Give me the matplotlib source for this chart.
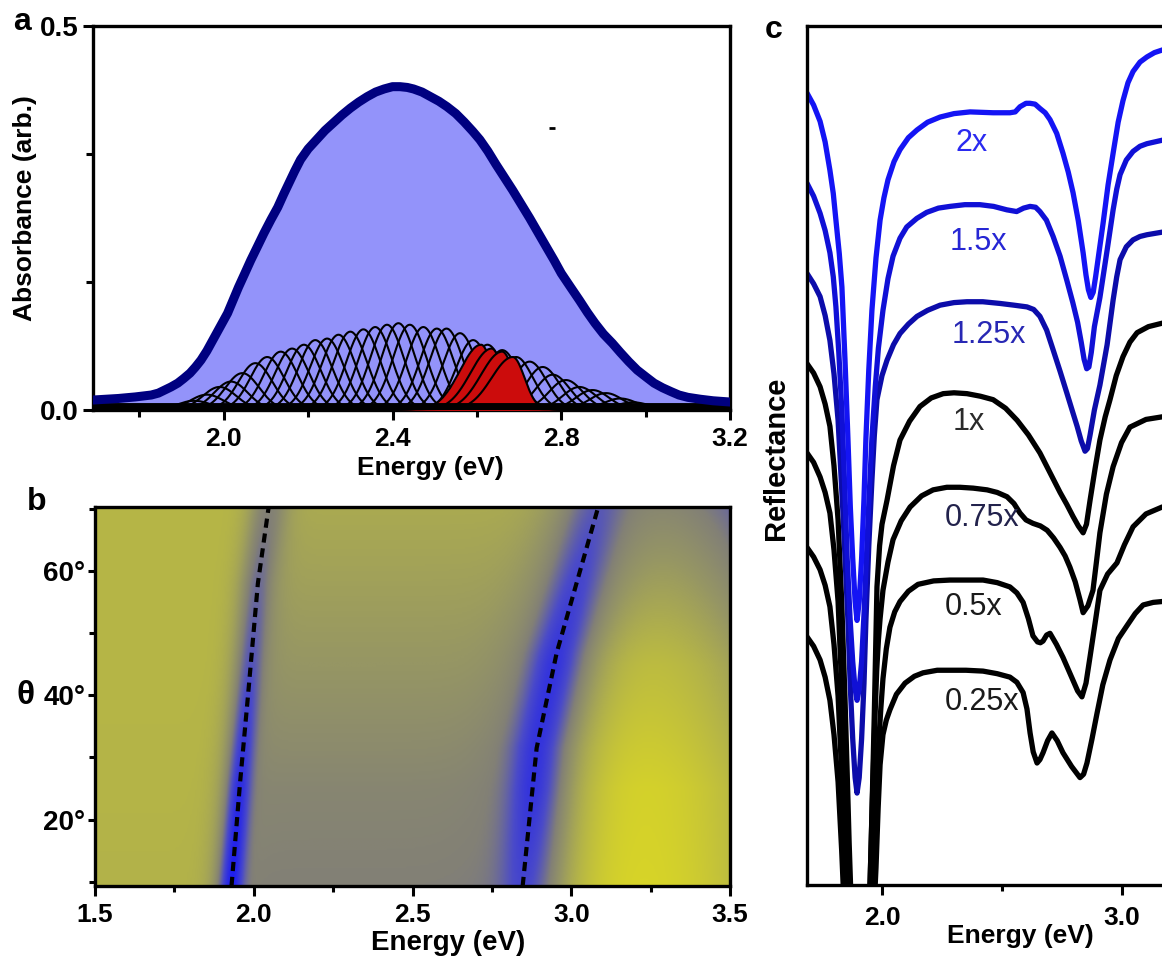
import numpy as np
import matplotlib.pyplot as plt
from matplotlib.colors import LinearSegmentedColormap

plt.rcParams['font.family'] = ['Liberation Sans', 'DejaVu Sans']
plt.rcParams['font.weight'] = 'bold'

# ---------------- panel a: absorbance ----------------
ABS_E = [1.69, 1.72, 1.75, 1.79, 1.828, 1.845, 1.86, 1.875, 1.891, 1.905, 1.92, 1.933,
         1.946, 1.96, 1.975, 1.992, 2.009, 2.022, 2.035, 2.05, 2.064, 2.08, 2.095, 2.112,
         2.128, 2.142, 2.155, 2.168, 2.182, 2.20, 2.22, 2.24, 2.26, 2.28, 2.30, 2.32,
         2.34, 2.36, 2.38, 2.40, 2.418, 2.435, 2.45, 2.47, 2.49, 2.51, 2.529, 2.55,
         2.57, 2.59, 2.607, 2.626, 2.645, 2.665, 2.685, 2.705, 2.725, 2.745, 2.765,
         2.783, 2.80, 2.822, 2.843, 2.862, 2.88, 2.90, 2.921, 2.94, 2.96, 2.98, 3.001,
         3.02, 3.04, 3.06, 3.079, 3.10, 3.13, 3.16, 3.20]
ABS_Y = [0.013, 0.014, 0.015, 0.017, 0.0195, 0.022, 0.026, 0.030, 0.035, 0.041, 0.048,
         0.056, 0.065, 0.077, 0.092, 0.109, 0.126, 0.143, 0.16, 0.178, 0.195, 0.213,
         0.23, 0.248, 0.264, 0.281, 0.296, 0.311, 0.326, 0.340, 0.352, 0.364, 0.374,
         0.384, 0.393, 0.401, 0.408, 0.414, 0.418, 0.421, 0.421, 0.420, 0.418, 0.414,
         0.408, 0.402, 0.395, 0.386, 0.375, 0.363, 0.352, 0.337, 0.32, 0.303, 0.286,
         0.268, 0.25, 0.231, 0.212, 0.195, 0.178, 0.16, 0.143, 0.127, 0.113, 0.099,
         0.087, 0.075, 0.063, 0.052, 0.043, 0.035, 0.029, 0.024, 0.0195, 0.0165, 0.014,
         0.012, 0.0104]

# sub-band gaussians (center, amplitude)
BAND_CENTERS = [1.93, 1.96, 1.99, 2.017, 2.044, 2.075, 2.103, 2.135, 2.162, 2.19,
                2.217, 2.245, 2.272, 2.30, 2.331, 2.359, 2.387, 2.414, 2.441, 2.473,
                2.505, 2.528, 2.56, 2.591, 2.625, 2.66, 2.693, 2.725, 2.756, 2.78,
                2.811, 2.843, 2.874, 2.906, 2.94, 2.97, 3.0]
BAND_AMPS = [0.012, 0.02, 0.03, 0.037, 0.048, 0.061, 0.069, 0.076, 0.080, 0.085,
             0.091, 0.093, 0.098, 0.102, 0.105, 0.108, 0.111, 0.113, 0.111, 0.108,
             0.106, 0.106, 0.100, 0.091, 0.085, 0.078, 0.069, 0.063, 0.056, 0.046,
             0.039, 0.030, 0.026, 0.022, 0.015, 0.010, 0.006]
BAND_SIGMA = 0.04
RED_CENTERS = [2.61, 2.635, 2.66, 2.685]
RED_AMPS = [0.085, 0.080, 0.076, 0.069]
RED_SIGMA_LEFT = 0.05
RED_SIGMA_RIGHT = 0.028

# ---------------- panel b: angle-resolved map ----------------
LOWER_ANGLES = [9.3, 26, 40, 58, 70.3]
LOWER_DIP_E = [1.93, 1.957, 1.982, 2.013, 2.047]
UPPER_ANGLES = [9.3, 31.5, 46.8, 58.1, 70.3]
UPPER_DIP_E = [2.847, 2.891, 2.954, 3.017, 3.085]
LEVEL_ANGLES = [9.3, 25, 45, 70.3]
LEFT_LEVEL = [0.77, 0.78, 0.79, 0.79]
MID_LEVEL = [0.45, 0.49, 0.60, 0.72]
RIGHT_LEVEL = [1.0, 0.98, 0.84, 0.52]
LOWER_CORE = [0.0, 0.08, 0.28, 0.46]
UPPER_CORE = [0.22, 0.12, 0.12, 0.3]

# ---------------- panel c: reflectance ----------------
SCALES = ['0.25x', '0.5x', '0.75x', '1x', '1.25x', '1.5x', '2x']
REFL_E = {
    '2x': [1.6875, 1.715, 1.742, 1.763, 1.783, 1.797, 1.808, 1.822, 1.833, 1.846, 1.858,
           1.868, 1.878, 1.888, 1.896, 1.905, 1.915, 1.925, 1.933, 1.945, 1.958, 1.975,
           1.992, 2.008, 2.025, 2.05, 2.075, 2.11, 2.146, 2.19, 2.242, 2.30, 2.367,
           2.463, 2.533, 2.555, 2.575, 2.60, 2.617, 2.638, 2.658, 2.68, 2.70, 2.728,
           2.754, 2.776, 2.796, 2.818, 2.838, 2.85, 2.86, 2.87, 2.88, 2.89, 2.90, 2.921,
           2.942, 2.963, 2.984, 3.004, 3.025, 3.046, 3.075, 3.104, 3.135, 3.167, 3.2],
    '1.5x': [1.6875, 1.715, 1.742, 1.763, 1.783, 1.797, 1.808, 1.82, 1.833, 1.845, 1.855,
             1.867, 1.878, 1.888, 1.896, 1.905, 1.915, 1.925, 1.935, 1.946, 1.958, 1.972,
             1.985, 2.004, 2.025, 2.046, 2.075, 2.103, 2.145, 2.186, 2.235, 2.283, 2.345,
             2.408, 2.465, 2.52, 2.561, 2.59, 2.617, 2.64, 2.658, 2.685, 2.713, 2.742,
             2.77, 2.795, 2.815, 2.83, 2.842, 2.853, 2.862, 2.872, 2.885, 2.908, 2.938,
             2.963, 2.978, 2.992, 3.018, 3.046, 3.075, 3.104, 3.167, 3.2],
    '1.25x': [1.6875, 1.715, 1.742, 1.763, 1.783, 1.80, 1.817, 1.838, 1.858, 1.868, 1.878,
              1.888, 1.896, 1.905, 1.915, 1.925, 1.933, 1.945, 1.958, 1.968, 1.979, 2.0,
              2.021, 2.048, 2.075, 2.11, 2.146, 2.19, 2.242, 2.30, 2.354, 2.42, 2.492,
              2.55, 2.604, 2.632, 2.658, 2.686, 2.713, 2.742, 2.771, 2.793, 2.813, 2.83,
              2.846, 2.856, 2.867, 2.885, 2.908, 2.938, 2.963, 2.978, 2.992, 3.018, 3.046,
              3.075, 3.104, 3.167, 3.2],
    '1x': [1.6875, 1.715, 1.742, 1.763, 1.783, 1.80, 1.817, 1.832, 1.846, 1.855, 1.863,
           1.875, 1.885, 1.91, 1.935, 1.948, 1.955, 1.962, 1.968, 1.974, 1.979, 1.99, 2.0,
           2.021, 2.048, 2.075, 2.115, 2.158, 2.205, 2.255, 2.30, 2.354, 2.41, 2.463,
           2.515, 2.563, 2.61, 2.658, 2.70, 2.742, 2.77, 2.796, 2.818, 2.838, 2.852,
           2.867, 2.888, 2.908, 2.93, 2.95, 2.976, 3.004, 3.033, 3.063, 3.11, 3.167, 3.2],
    '0.75x': [1.6875, 1.715, 1.742, 1.763, 1.783, 1.80, 1.817, 1.832, 1.846, 1.856, 1.865,
              1.89, 1.915, 1.94, 1.95, 1.96, 1.97, 1.978, 1.985, 1.992, 2.004, 2.025,
              2.046, 2.08, 2.117, 2.165, 2.213, 2.27, 2.325, 2.38, 2.438, 2.48, 2.521,
              2.55, 2.575, 2.60, 2.629, 2.66, 2.688, 2.715, 2.742, 2.763, 2.783, 2.805,
              2.825, 2.838, 2.858, 2.879, 2.893, 2.908, 2.935, 2.963, 2.998, 3.033, 3.10,
              3.167, 3.2],
    '0.5x': [1.6875, 1.715, 1.742, 1.763, 1.783, 1.80, 1.817, 1.832, 1.846, 1.87, 1.90,
             1.93, 1.955, 1.97, 1.985, 1.995, 2.004, 2.018, 2.033, 2.053, 2.075, 2.11,
             2.15, 2.215, 2.283, 2.35, 2.421, 2.48, 2.533, 2.562, 2.588, 2.61, 2.629,
             2.648, 2.66, 2.671, 2.686, 2.70, 2.727, 2.754, 2.79, 2.815, 2.833, 2.85,
             2.867, 2.888, 2.908, 2.94, 2.979, 3.01, 3.046, 3.10, 3.167, 3.2],
    '0.25x': [1.6875, 1.715, 1.742, 1.763, 1.783, 1.80, 1.817, 1.832, 1.846, 1.88, 1.92,
              1.955, 1.975, 1.984, 1.992, 2.004, 2.018, 2.033, 2.06, 2.096, 2.135, 2.171,
              2.23, 2.283, 2.35, 2.421, 2.48, 2.533, 2.562, 2.588, 2.604, 2.617, 2.63,
              2.646, 2.658, 2.671, 2.69, 2.708, 2.73, 2.754, 2.79, 2.825, 2.84, 2.854,
              2.875, 2.896, 2.92, 2.95, 2.985, 3.021, 3.055, 3.088, 3.13, 3.167, 3.2],
}
REFL_R = {
    '2x': [92.2, 90.8, 88.9, 86.5, 83.2, 80.5, 77.4, 73.5, 69.6, 61, 52,
           44, 38, 33, 30.8, 33, 38, 45, 52, 60, 66.9, 73,
           77.4, 80, 82.1, 84.2, 85.6, 87, 87.9, 88.8, 89.4, 89.8, 90.0,
           89.9, 89.9, 90.0, 90.6, 91.0, 91.0, 90.9, 90.4, 89.9, 89.1, 87.5,
           85.2, 83.0, 80.6, 77.3, 73.6, 71, 69.3, 68.4, 69.0, 70.8, 72.8, 77,
           81.5, 85.2, 88.8, 91.3, 93.4, 94.7, 95.8, 96.4, 96.9, 97.2, 97.4],
    '1.5x': [81.7, 80.2, 78.2, 76.2, 73.6, 70.8, 67.3, 62, 55, 46, 38,
             31, 26, 22.8, 21.5, 22.8, 26, 31.5, 38, 45, 52, 58,
             62.5, 66.9, 70.6, 73.2, 75.3, 76.6, 77.6, 78.3, 78.8, 79.0, 79.2,
             79.2, 79.0, 78.6, 78.4, 78.8, 79.0, 78.9, 78.4, 77.4, 75.5, 73.2,
             70.4, 67.8, 65.5, 63.2, 61.2, 60.1, 60.3, 62, 65, 68.4, 73.9,
             78.6, 81, 82.7, 84.4, 85.4, 86.0, 86.3, 86.7, 86.9],
    '1.25x': [71.2, 70.0, 68.5, 66.3, 63.4, 59.5, 54.1, 43, 30.8, 23, 17,
              12.5, 10.7, 12.5, 17, 23.5, 30.8, 39.5, 47.1, 52.3, 56.5, 59.3,
              61.1, 62.9, 64.2, 65.3, 66.2, 66.9, 67.5, 67.8, 67.9, 67.9, 67.7,
              67.5, 67.3, 67.0, 66.2, 64.6, 62.3, 59.8, 57.2, 55.2, 53.4, 51.7,
              50.5, 50.8, 52.4, 55.3, 58.2, 62.9, 68.1, 70.8, 72.8, 74.3, 75.1,
              75.5, 75.7, 76.0, 76.1],
    '1x': [60.7, 59.6, 58.0, 56.0, 53.4, 48.8, 42.5, 33, 21.5, 13, 5,
           -5, -12, -20, -12, -2, 5, 13, 20, 28, 34.7, 39.5, 42,
           44.8, 48.8, 51.8, 54.0, 55.7, 56.7, 57.2, 57.3, 57.2, 56.9, 56.5,
           55.5, 54.1, 52.4, 50.3, 48.0, 45.7, 44.3, 42.9, 41.8, 41.0, 42.0,
           44.8, 48.5, 51.8, 54.5, 56.5, 59.3, 61.5, 63.2, 64.3, 65.0, 65.4, 65.5],
    '0.75x': [50.3, 49.2, 47.5, 45.7, 43.3, 39, 33, 23, 12, 3, -5,
              -20, -25, -10, 0, 10, 19, 25, 28.5, 31, 34.3, 37.6,
              40.2, 42.4, 44.0, 45.3, 46.0, 46.3, 46.3, 46.2, 46.0, 45.7, 45.2,
              44.4, 43.3, 42.5, 42.1, 41.8, 41.3, 40.4, 39.3, 38.3, 37.0, 35.3,
              33.2, 31.7, 32.5, 34.3, 37.5, 41.0, 45.5, 48.7, 51.5, 53.3, 54.2,
              54.5, 54.6],
    '0.5x': [39.3, 38.2, 36.7, 34.9, 32.4, 28, 22, 13, 3, -15, -25,
             -15, 0, 8, 16, 20.5, 24, 27.5, 30, 31.8, 33, 34.2,
             35, 35.4, 35.5, 35.5, 35.5, 35.2, 34.7, 34.0, 32.9, 31.0, 29.0,
             28.3, 28.2, 28.4, 29.1, 29.3, 28.0, 26.5, 24.2, 22.6, 21.9, 23.5,
             26.6, 30.5, 34.3, 36.2, 37.5, 39.6, 41.7, 43.2, 44.0, 44.1],
    '0.25x': [28.9, 27.8, 26.2, 24.2, 21.5, 17.5, 12, 4, -5, -25, -25,
              -10, 2, 9, 14, 17.5, 19.2, 20.4, 22.2, 23.5, 24.3, 24.7,
              25.0, 25.0, 25.0, 24.9, 24.6, 24.2, 23.6, 22.4, 20.5, 17.7, 15.5,
              14.2, 14.6, 15.4, 16.8, 17.7, 16.8, 15.4, 13.8, 12.5, 12.9, 14.2,
              17.0, 20.0, 23.3, 26.2, 28.7, 30.2, 31.6, 32.6, 32.9, 33.0, 33.1],
}
LINE_COLORS = {'2x': '#1414f4', '1.5x': '#1010d6', '1.25x': '#0c0caa',
               '1x': 'black', '0.75x': 'black', '0.5x': 'black', '0.25x': 'black'}
TEXT_COLORS = {'2x': '#2a2af0', '1.5x': '#2626d4', '1.25x': '#2828b4',
               '1x': '#2a2a2a', '0.75x': '#22224c', '0.5x': '#1a1a1a', '0.25x': '#1a1a1a'}
LABEL_POS = {'2x': (2.375, 86.4), '1.5x': (2.40, 74.9), '1.25x': (2.446, 64.0),
             '1x': (2.363, 53.9), '0.75x': (2.417, 42.7), '0.5x': (2.383, 32.4),
             '0.25x': (2.417, 21.3)}

W, H = 1162, 957


def box(x0, y0, x1, y1):
    # pixel box -> figure fraction rect
    return [x0 / W, 1 - y1 / H, (x1 - x0) / W, (y1 - y0) / H]


def ftext(x, y, s, **kw):
    fig.text(x / W, 1 - y / H, s, ha='center', va='center', **kw)


def style_spines(ax, lw=2.4):
    for sp in ax.spines.values():
        sp.set_linewidth(lw)


fig = plt.figure(figsize=(W / 100, H / 100), dpi=100)

# ---------- a ----------
axa = fig.add_axes(box(93, 26, 730, 410))
e = np.linspace(1.69, 3.2, 900)
axa.fill_between(ABS_E, 0, ABS_Y, color='#9393fa', lw=0, zorder=1)
for c, a in zip(BAND_CENTERS, BAND_AMPS):
    axa.plot(e, a * np.exp(-(e - c) ** 2 / (2 * BAND_SIGMA ** 2)), color='black', lw=1.5, zorder=2)
for c, a in zip(RED_CENTERS, RED_AMPS):
    sig = np.where(e < c, RED_SIGMA_LEFT, RED_SIGMA_RIGHT)
    y = a * np.exp(-(e - c) ** 2 / (2 * sig ** 2))
    axa.fill_between(e, 0, y, color='#cc0c0c', lw=0, zorder=3)
    axa.plot(e, y, color='black', lw=1.5, zorder=3)
axa.axhline(0, color='black', lw=10, zorder=4)
axa.plot(ABS_E, ABS_Y, color='#000080', lw=6.5, zorder=5,
         solid_joinstyle='round', solid_capstyle='round')
axa.plot([2.779], [0.367], marker='_', ms=5, mew=2, color='black')
axa.set_xlim(1.69, 3.2)
axa.set_ylim(0, 0.5)
axa.set_xticks([2.0, 2.4, 2.8, 3.2])
axa.set_xticklabels(['2.0', '2.4', '2.8', '3.2'])
axa.set_xticks([1.8, 2.2, 2.6, 3.0], minor=True)
axa.set_yticks([0, 0.5])
axa.set_yticklabels(['0.0', '0.5'])
axa.set_yticks([1 / 6, 1 / 3], minor=True)
axa.tick_params(which='major', direction='out', length=7, width=2.2, labelsize=19, pad=5)
axa.tick_params(axis='y', which='major', labelsize=20, pad=3)
axa.tick_params(which='minor', direction='out', length=5, width=2.2)
style_spines(axa)
ftext(430, 468, 'Energy (eV)', fontsize=19, fontweight='bold')
ftext(25, 208, 'Absorbance (arb.)', fontsize=19, fontweight='bold', rotation=90)
ftext(22, 22, 'a', fontsize=23, fontweight='bold')

# ---------- b ----------
axb = fig.add_axes(box(95, 507, 730, 886))
eg = np.linspace(1.5, 3.5, 500)
tg = np.linspace(9.3, 70.3, 250)
E, T = np.meshgrid(eg, tg)
e1 = np.interp(T, LOWER_ANGLES, LOWER_DIP_E)
e2 = np.interp(T, UPPER_ANGLES, UPPER_DIP_E)
s1 = 1 / (1 + np.exp(-(E - e1) / 0.025))
s2 = 1 / (1 + np.exp(-(E - e2) / 0.05))
left = np.interp(T, LEVEL_ANGLES, LEFT_LEVEL)
mid = np.interp(T, LEVEL_ANGLES, MID_LEVEL)
right = np.interp(T, LEVEL_ANGLES, RIGHT_LEVEL) - 2.0 * (E - 3.22) ** 2
core1 = np.interp(T, LEVEL_ANGLES, LOWER_CORE)
core2 = np.interp(T, LEVEL_ANGLES, UPPER_CORE)
field = left * (1 - s1) + mid * s1 * (1 - s2) + right * s2
field += (0.45 - field) * 0.8 * np.exp(-((E - e1) / 0.07) ** 2)
field += (core1 - field) * np.exp(-((E - e1) / 0.036) ** 2)
field += (0.42 - field) * 0.85 * np.exp(-((E - e2) / 0.16) ** 2)
field += (core2 - field) * np.exp(-((E - e2) / 0.075) ** 2)
cmap = LinearSegmentedColormap.from_list('refl', [
    (0.0, (30 / 255, 30 / 255, 240 / 255)),
    (0.25, (75 / 255, 75 / 255, 200 / 255)),
    (0.45, (130 / 255, 128 / 255, 118 / 255)),
    (0.6, (150 / 255, 150 / 255, 100 / 255)),
    (0.78, (180 / 255, 180 / 255, 72 / 255)),
    (1.0, (215 / 255, 212 / 255, 40 / 255))])
axb.imshow(field, extent=[1.5, 3.5, 9.3, 70.3], origin='lower', aspect='auto',
           cmap=cmap, vmin=0, vmax=1, interpolation='bilinear')
axb.plot(LOWER_DIP_E, LOWER_ANGLES, color='black', lw=3, ls=(0, (2.2, 1.4)))
axb.plot(UPPER_DIP_E, UPPER_ANGLES, color='black', lw=3, ls=(0, (2.2, 1.4)))
axb.set_xlim(1.5, 3.5)
axb.set_ylim(9.3, 70.3)
axb.set_xticks([1.5, 2.0, 2.5, 3.0, 3.5])
axb.set_xticklabels(['1.5', '2.0', '2.5', '3.0', '3.5'])
axb.set_xticks([1.75, 2.25, 2.75, 3.25], minor=True)
axb.set_yticks([20, 40, 60])
axb.set_yticklabels(['20°', '40°', '60°'])
axb.set_yticks([10, 30, 50, 70], minor=True)
axb.tick_params(which='major', direction='out', length=7, width=2.2, labelsize=19, pad=5)
axb.tick_params(which='minor', direction='out', length=4, width=2.2)
axb.tick_params(axis='y', which='major', length=5, pad=2, labelsize=20)
style_spines(axb)
ftext(448, 943, 'Energy (eV)', fontsize=20, fontweight='bold')
ftext(26, 695, 'θ', fontsize=24, fontweight='bold')
ftext(37, 502, 'b', fontsize=23, fontweight='bold')

# ---------- c ----------
axc = fig.add_axes(box(807, 26, 1170, 885))
for key in SCALES:
    axc.plot(REFL_E[key], REFL_R[key], color=LINE_COLORS[key], lw=3.8,
             solid_joinstyle='round', solid_capstyle='round')
    lx, ly = LABEL_POS[key]
    axc.text(lx, ly, key, color=TEXT_COLORS[key], fontsize=22, fontweight='normal',
             ha='center', va='center')
axc.set_xlim(1.6875, 3.2)
axc.set_ylim(0, 100)
axc.set_yticks([])
axc.set_xticks([2.0, 3.0])
axc.set_xticklabels(['2.0', '3.0'])
axc.set_xticks([2.5], minor=True)
axc.tick_params(which='major', direction='out', length=7, width=2.2, labelsize=19, pad=8)
axc.tick_params(which='minor', direction='out', length=4, width=2.2)
style_spines(axc)
ftext(1020, 936, 'Energy (eV)', fontsize=19, fontweight='bold')
ftext(776, 458, 'Reflectance', fontsize=21, fontweight='bold', rotation=90)
ftext(774, 30, 'c', fontsize=23, fontweight='bold')

fig.savefig('out.png', dpi=100)
